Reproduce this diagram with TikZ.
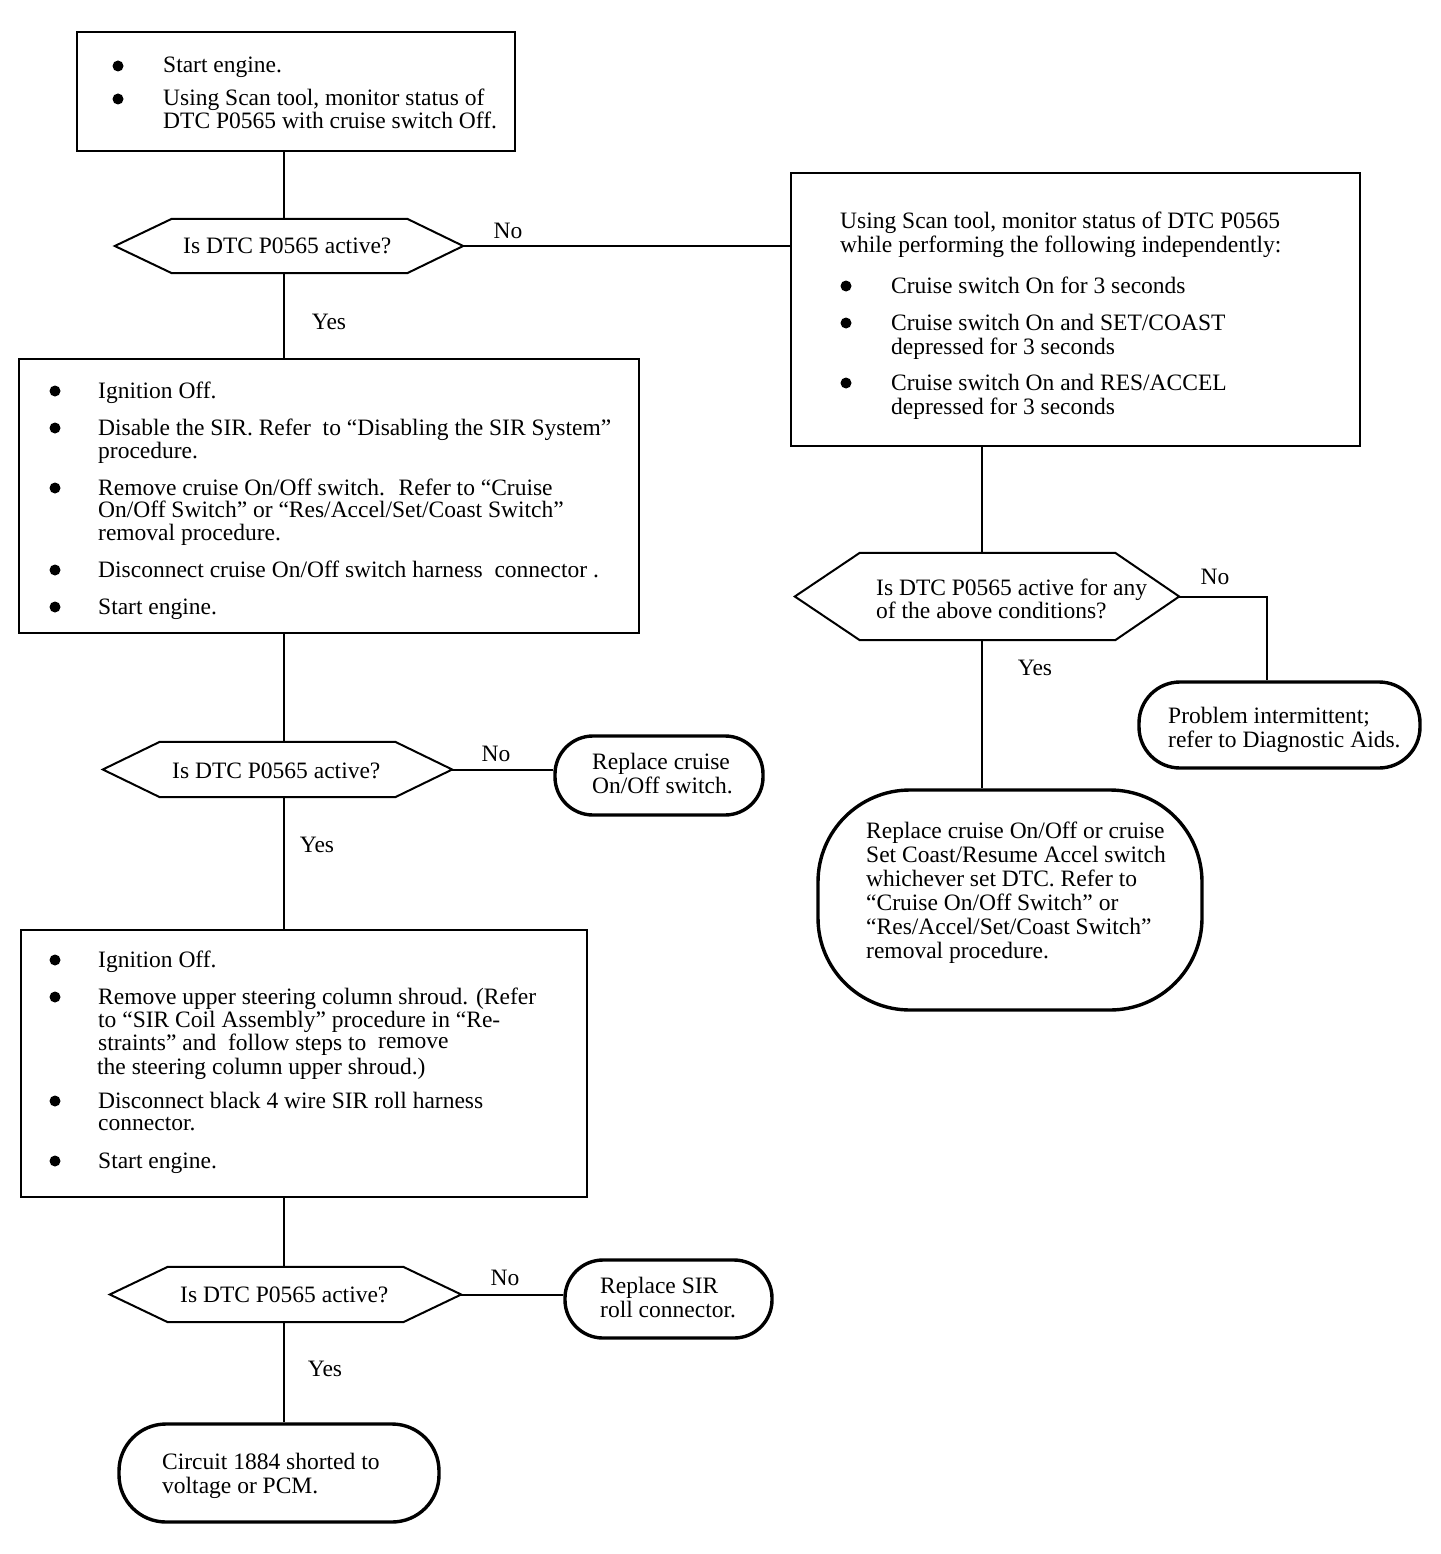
\documentclass[tikz,border=0pt]{standalone}
\usepackage{fontspec}
\setmainfont{Liberation Serif}
\usetikzlibrary{calc}
\newcommand\tline[4]{\node[txt] (#1) at (#2,#3+7) {#4};}
\newcommand\bul[3]{\node[bulletdot] (#1) at (#2,#3) {};}
\begin{document}
\begin{tikzpicture}[x=1pt,y=-1pt,
  box/.style={draw, line width=2.4pt, rectangle, inner sep=0pt},
  term/.style={draw, line width=3.4pt, rectangle, inner sep=0pt},
  hold/.style={rectangle, inner sep=0pt, draw=none},
  hex/.style={draw, line width=2pt, line join=miter},
  conn/.style={draw, line width=2pt},
  txt/.style={anchor=base west, inner sep=0pt, font=\fontsize{23.5pt}{24pt}\selectfont},
  lab/.style={inner sep=0pt, font=\fontsize{23.5pt}{24pt}\selectfont},
  bulletdot/.style={circle, fill=black, draw=none, inner sep=0pt, minimum size=11pt}]
\path[fill=white] (0,0) rectangle (1440,1554);
\useasboundingbox (0,0) rectangle (1440,1554);

% spine coordinates
\coordinate (ls) at (284,0);
\coordinate (rs) at (982,0);
\coordinate (tc) at (1267,0);

% ---------- boxes ----------
\node[box, minimum width=438pt, minimum height=119pt] (b1) at (296,91.5) {};
\node[box, minimum width=569pt, minimum height=273pt] (b2) at (1075.5,309.5) {};
\node[box, minimum width=620pt, minimum height=274pt] (b3) at (329,496) {};
\node[box, minimum width=566pt, minimum height=267pt] (b4) at (304,1063.5) {};

% ---------- terminals ----------
\node[term, rounded corners=38pt, minimum width=208pt, minimum height=79pt] (t1) at (659,775.5) {};
\node[term, rounded corners=38pt, minimum width=207pt, minimum height=78pt] (t2) at (668.5,1299) {};
\node[term, rounded corners=41pt, minimum width=281pt, minimum height=86pt] (t3) at (1279.5,725) {};
\node[term, rounded corners=92pt, minimum width=384pt, minimum height=220pt] (t4) at (1010,900) {};
\node[term, rounded corners=47pt, minimum width=320pt, minimum height=98pt] (t5) at (279,1473) {};

% ---------- decisions ----------
\node[hold, minimum width=348pt, minimum height=54pt] (d1) at (289,246) {};
\node[hold, minimum width=349pt, minimum height=55pt] (d2) at (277.5,769.5) {};
\node[hold, minimum width=384pt, minimum height=87pt] (d3) at (987,596.5) {};
\node[hold, minimum width=351pt, minimum height=55pt] (d4) at (285.5,1294.5) {};
\draw[hex] (d1.west) -- ([xshift=57pt]d1.north west) -- ([xshift=-56pt]d1.north east) -- (d1.east) -- ([xshift=-56pt]d1.south east) -- ([xshift=57pt]d1.south west) -- cycle;
\draw[hex] (d2.west) -- ([xshift=57pt]d2.north west) -- ([xshift=-57pt]d2.north east) -- (d2.east) -- ([xshift=-57pt]d2.south east) -- ([xshift=57pt]d2.south west) -- cycle;
\draw[hex] (d3.west) -- ([xshift=65pt]d3.north west) -- ([xshift=-64pt]d3.north east) -- (d3.east) -- ([xshift=-64pt]d3.south east) -- ([xshift=65pt]d3.south west) -- cycle;
\draw[hex] (d4.west) -- ([xshift=58pt]d4.north west) -- ([xshift=-58pt]d4.north east) -- (d4.east) -- ([xshift=-58pt]d4.south east) -- ([xshift=58pt]d4.south west) -- cycle;

% ---------- connectors ----------
\draw[conn] (b1.south -| ls) -- (d1.north -| ls);
\draw[conn] (d1.south -| ls) -- (b3.north -| ls);
\draw[conn] (b3.south -| ls) -- (d2.north -| ls);
\draw[conn] (d2.south -| ls) -- (b4.north -| ls);
\draw[conn] (b4.south -| ls) -- (d4.north -| ls);
\draw[conn] (d4.south -| ls) -- (t5.north -| ls);
\draw[conn] (d1.east) -- (d1.east -| b2.west);
\draw[conn] (d2.east) -- (d2.east -| t1.west);
\draw[conn] (d4.east) -- (d4.east -| t2.west);
\draw[conn] (b2.south -| rs) -- (d3.north -| rs);
\draw[conn] (d3.south -| rs) -- (t4.north -| rs);
\draw[conn] (d3.east) -- (d3.east -| tc) -- (t3.north -| tc);

% ---------- labels ----------
\node[lab] (n1) at (508,231) {No};
\node[lab] (y1) at (329,322) {Yes};
\node[lab] (n2) at (496,754) {No};
\node[lab] (y2) at (317,845) {Yes};
\node[lab] (n4) at (505,1278) {No};
\node[lab] (y4) at (325,1369) {Yes};
\node[lab] (n3) at (1215,577) {No};
\node[lab] (y3) at (1035,668) {Yes};

% ---------- box 1 text ----------
\bul{b1u1}{118}{66}
\bul{b1u2}{118}{99}
\tline{b1l1}{163}{66}{Start engine.}
\tline{b1l2}{163}{99}{Using Scan tool, monitor status of}
\tline{b1l3}{163}{122}{DTC P0565 with cruise switch Off.}

% ---------- decision texts ----------
\tline{d1l1}{183}{247}{Is DTC P0565 active?}
\tline{d2l1}{172}{771}{Is DTC P0565 active?}
\tline{d4l1}{180}{1295}{Is DTC P0565 active?}
\tline{d3l1}{876}{588}{Is DTC P0565 active for any}
\tline{d3l2}{876}{611}{of the above conditions?}

% ---------- box 2 text ----------
\tline{b2l1}{840}{222}{Using Scan tool, monitor status of DTC P0565}
\tline{b2l2}{840}{246}{while performing the following independently:}
\bul{b2u1}{846}{286}
\bul{b2u2}{846}{323}
\bul{b2u3}{846}{383}
\tline{b2l3}{891}{286}{Cruise switch On for 3 seconds}
\tline{b2l4}{891}{323}{Cruise switch On and SET/COAST}
\tline{b2l5}{891}{347}{depressed for 3 seconds}
\tline{b2l6}{891}{383}{Cruise switch On and RES/ACCEL}
\tline{b2l7}{891}{407}{depressed for 3 seconds}

% ---------- box 3 text ----------
\bul{b3u1}{55}{391}
\bul{b3u2}{55}{428}
\bul{b3u3}{55}{488}
\bul{b3u4}{55}{570}
\bul{b3u5}{55}{607}
\tline{b3l1}{98}{391}{Ignition Off.}
\tline{b3l2}{98}{428}{Disable the SIR. Refer~ to “Disabling the SIR System”}
\tline{b3l3}{98}{451}{procedure.}
\tline{b3l4}{98}{488}{Remove cruise On/Off switch.~ Refer to “Cruise}
\tline{b3l5}{98}{510}{On/Off Switch” or “Res/Accel/Set/Coast Switch”}
\tline{b3l6}{98}{533}{removal procedure.}
\tline{b3l7}{98}{570}{Disconnect cruise On/Off switch harness~ connector .}
\tline{b3l8}{98}{607}{Start engine.}

% ---------- box 4 text ----------
\bul{b4u1}{55}{960}
\bul{b4u2}{55}{997}
\bul{b4u3}{55}{1101}
\bul{b4u4}{55}{1161}
\tline{b4l1}{98}{960}{Ignition Off.}
\tline{b4l2}{98}{997}{Remove upper steering column shroud. (Refer}
\tline{b4l3}{98}{1020}{to “SIR Coil Assembly” procedure in “Re-}
\tline{b4l4}{98}{1043.5}{straints” and~ follow steps to~ \raisebox{2pt}{remove}}
\tline{b4l5}{97}{1067}{the steering column upper shroud.)}
\tline{b4l6}{98}{1101}{Disconnect black 4 wire SIR roll harness}
\tline{b4l7}{98}{1123}{connector.}
\tline{b4l8}{98}{1161}{Start engine.}

% ---------- terminal texts ----------
\tline{t1l1}{592}{762}{Replace cruise}
\tline{t1l2}{592}{786}{On/Off switch.}
\tline{t2l1}{600}{1286}{Replace SIR}
\tline{t2l2}{600}{1310}{roll connector.}
\tline{t3l1}{1168}{716}{Problem intermittent;}
\tline{t3l2}{1168}{740}{refer to Diagnostic Aids.}
\tline{t4l1}{866}{831}{Replace cruise On/Off or cruise}
\tline{t4l2}{866}{855}{Set Coast/Resume Accel switch}
\tline{t4l3}{866}{879}{whichever set DTC. Refer to}
\tline{t4l4}{866}{903}{“Cruise On/Off Switch” or}
\tline{t4l5}{866}{927}{“Res/Accel/Set/Coast Switch”}
\tline{t4l6}{866}{951}{removal procedure.}
\tline{t5l1}{162}{1462}{Circuit 1884 shorted to}
\tline{t5l2}{162}{1486}{voltage or PCM.}
\end{tikzpicture}
\end{document}
